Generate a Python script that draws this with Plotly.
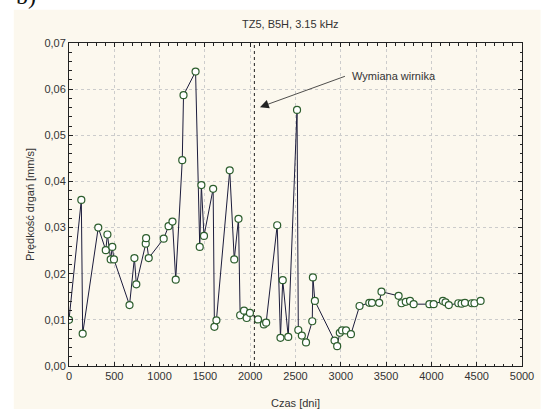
import plotly.graph_objects as go

days = [0, 136, 151, 323, 406, 424, 460, 478, 496, 668, 722, 743, 847, 851, 880,
        1045, 1099, 1142, 1178, 1250, 1264, 1397, 1443, 1461, 1490, 1591, 1605, 1627,
        1774, 1824, 1871, 1889, 1932, 1961, 1997, 2086, 2151, 2176, 2298, 2334, 2359,
        2420, 2517, 2531, 2570, 2616, 2685, 2692, 2714, 2931, 2960, 2989, 3014, 3058,
        3112, 3207, 3315, 3344, 3424, 3449, 3638, 3670, 3717, 3764, 3804, 3978, 4025,
        4127, 4156, 4192, 4297, 4333, 4370, 4446, 4475, 4543]
velocity = [0.0100, 0.0360, 0.0070, 0.0300, 0.0251, 0.0285, 0.0231, 0.0258, 0.0231,
            0.0132, 0.0234, 0.0177, 0.0265, 0.0277, 0.0234, 0.0276, 0.0303, 0.0313,
            0.0187, 0.0446, 0.0587, 0.0638, 0.0258, 0.0392, 0.0282, 0.0384, 0.0085,
            0.0099, 0.0424, 0.0231, 0.0319, 0.0110, 0.0120, 0.0104, 0.0115, 0.0101,
            0.0090, 0.0094, 0.0305, 0.0061, 0.0186, 0.0063, 0.0555, 0.0078, 0.0066,
            0.0051, 0.0097, 0.0192, 0.0141, 0.0055, 0.0043, 0.0072, 0.0077, 0.0077,
            0.0069, 0.0130, 0.0137, 0.0137, 0.0137, 0.0161, 0.0152, 0.0136, 0.0139,
            0.0141, 0.0134, 0.0134, 0.0134, 0.0141, 0.0138, 0.0132, 0.0136, 0.0135,
            0.0137, 0.0136, 0.0136, 0.0141]

change_day = 2046
title_text = "TZ5, B5H, 3.15 kHz"
x_title = "Czas [dni]"
y_title = "Prędkość drgań [mm/s]"
note_text = "Wymiana wirnika"
arrow_head = (2108, 0.0561)
arrow_tail = (3062, 0.0629)

W, H = 546, 420
L, R, T, B = 68.5, 14, 42.7, 40
pw, ph = W - L - R, H - T - B

def px(xp):
    return (xp - L) / pw

def py(yp):
    return (H - B - yp) / ph

font = "Liberation Sans, Arial, sans-serif"
txt = "#333333"
cream = "#FCF8EE"

fig = go.Figure()
fig.add_trace(go.Scatter(
    x=days, y=velocity, mode="lines+markers",
    line=dict(color="#1c1c3c", width=1),
    marker=dict(symbol="circle", size=7, color="white",
                line=dict(color="#2d5e2d", width=1.2)),
    showlegend=False, hoverinfo="x+y"))

axis_common = dict(
    showline=True, linecolor="#222222", linewidth=1, mirror="allticks",
    ticks="inside", ticklen=4, tickcolor="#222222",
    showgrid=True, gridcolor="#cccccc", griddash="dot", gridwidth=1,
    zeroline=False, tickfont=dict(family=font, size=11, color=txt),
)

fig.update_xaxes(range=[0, 5000], dtick=500, tick0=0,
                 minor=dict(dtick=100, ticks="inside", ticklen=2.5, tickcolor="#222222", showgrid=False),
                 title=dict(text=x_title, font=dict(family=font, size=11, color=txt), standoff=18),
                 **axis_common)
fig.update_yaxes(range=[0, 0.07], dtick=0.01, tick0=0, tickformat=".2f",
                 minor=dict(dtick=0.002, ticks="inside", ticklen=2.5, tickcolor="#222222", showgrid=False),
                 title=dict(text=y_title, font=dict(family=font, size=11, color=txt), standoff=7),
                 **axis_common)

shapes = [
    dict(type="rect", xref="paper", yref="paper", x0=px(12), x1=px(W + 5),
         y0=py(H + 5), y1=py(8), fillcolor=cream, line=dict(width=0), layer="below"),
    dict(type="line", xref="x", yref="y", x0=change_day, x1=change_day, y0=0, y1=0.07,
         line=dict(color="#222222", width=1, dash="dot")),
]

annotations = [
    dict(x=arrow_head[0], y=arrow_head[1], ax=arrow_tail[0], ay=arrow_tail[1],
         xref="x", yref="y", axref="x", ayref="y", text="", showarrow=True,
         arrowhead=2, arrowsize=2.2, arrowwidth=0.8, arrowcolor="#222222"),
    dict(x=arrow_tail[0] + 40, y=arrow_tail[1], xref="x", yref="y", text=note_text,
         showarrow=False, xanchor="left", yanchor="middle",
         font=dict(family=font, size=11, color=txt)),
    dict(x=px(295), y=py(23), xref="paper", yref="paper", text=title_text,
         showarrow=False, xanchor="center", yanchor="middle",
         font=dict(family=font, size=11, color=txt)),
    dict(x=px(12), y=py(-6), xref="paper", yref="paper", text="b)",
         showarrow=False, xanchor="left", yanchor="middle",
         font=dict(family="Liberation Serif, Times New Roman, serif", size=24, color="#111111")),
]

fig.update_layout(
    width=W, height=H,
    margin=dict(l=L, r=R, t=T, b=B, pad=0),
    paper_bgcolor="white", plot_bgcolor="white",
    separators=", ",
    shapes=shapes, annotations=annotations,
    font=dict(family=font, size=11, color=txt),
)

fig.write_html("out.html", config={"displayModeBar": False})
